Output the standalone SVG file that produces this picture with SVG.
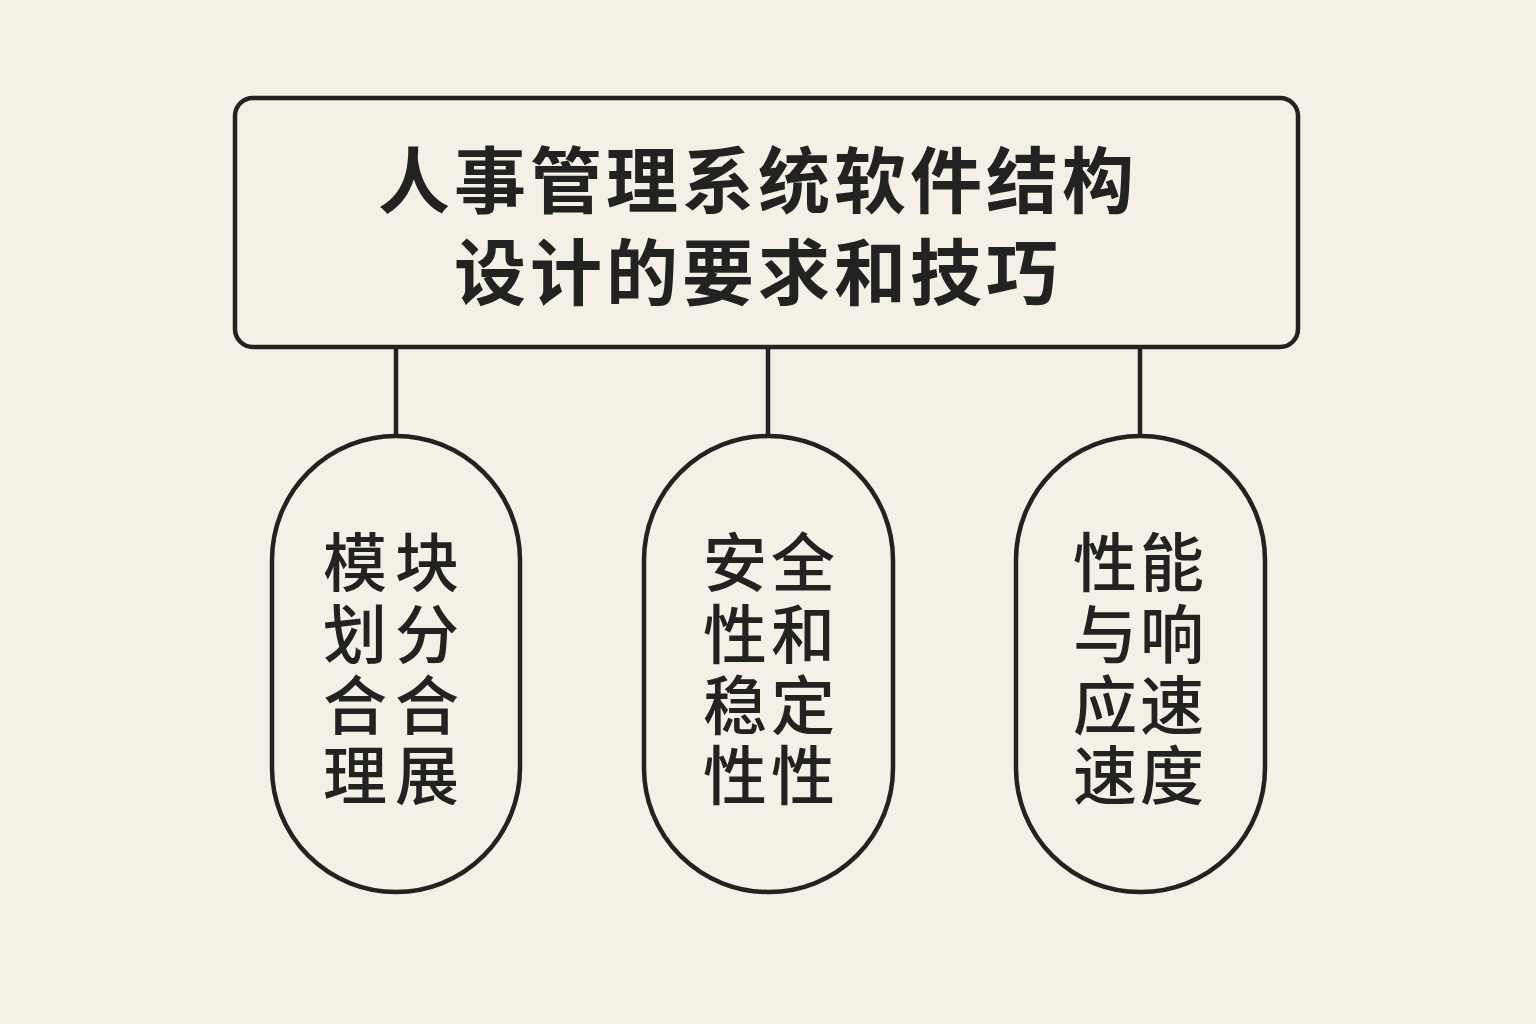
<svg xmlns="http://www.w3.org/2000/svg" width="1536" height="1024" viewBox="0 0 1536 1024">
<style>
.box{fill:#f4f0e6;stroke:#222;stroke-width:4.5}
.ln{stroke:#222;stroke-width:4.5;fill:none}
.t{font-family:"Noto Sans CJK SC","Noto Sans",sans-serif;font-weight:700;fill:#222;text-anchor:middle}
.tt{font-size:72px}
.nt{font-size:64px;font-weight:500}
</style>
<rect width="1536" height="1024" fill="#f4f0e6"/>
<g id="connectors">
<line class="ln" x1="396" y1="347" x2="396" y2="436"/>
<line class="ln" x1="768" y1="347" x2="768" y2="436"/>
<line class="ln" x1="1140" y1="347" x2="1140" y2="436"/>
</g>
<g id="title">
<rect class="box" x="235" y="98" width="1063" height="249" rx="18"/>
<text class="t tt" letter-spacing="4"><tspan x="758" y="207">人事管理系统软件结构</tspan><tspan x="758" y="299">设计的要求和技巧</tspan></text>
</g>
<g id="node1">
<rect class="box" x="272" y="436" width="248" height="456" rx="124"/>
<text class="t nt"><tspan x="355" y="586">模</tspan><tspan x="427" y="586">块</tspan><tspan x="355" y="658">划</tspan><tspan x="427" y="658">分</tspan><tspan x="355" y="729">合</tspan><tspan x="427" y="729">合</tspan><tspan x="355" y="799">理</tspan><tspan x="427" y="799">展</tspan></text>
</g>
<g id="node2">
<rect class="box" x="644" y="436" width="249" height="456" rx="124"/>
<text class="t nt"><tspan x="735" y="586">安</tspan><tspan x="803" y="586">全</tspan><tspan x="735" y="658">性</tspan><tspan x="803" y="658">和</tspan><tspan x="735" y="729">稳</tspan><tspan x="803" y="729">定</tspan><tspan x="735" y="799">性</tspan><tspan x="803" y="799">性</tspan></text>
</g>
<g id="node3">
<rect class="box" x="1016" y="436" width="249" height="456" rx="124"/>
<text class="t nt"><tspan x="1105" y="586">性</tspan><tspan x="1172" y="586">能</tspan><tspan x="1105" y="658">与</tspan><tspan x="1172" y="658">响</tspan><tspan x="1105" y="729">应</tspan><tspan x="1172" y="729">速</tspan><tspan x="1105" y="799">速</tspan><tspan x="1172" y="799">度</tspan></text>
</g>
</svg>
